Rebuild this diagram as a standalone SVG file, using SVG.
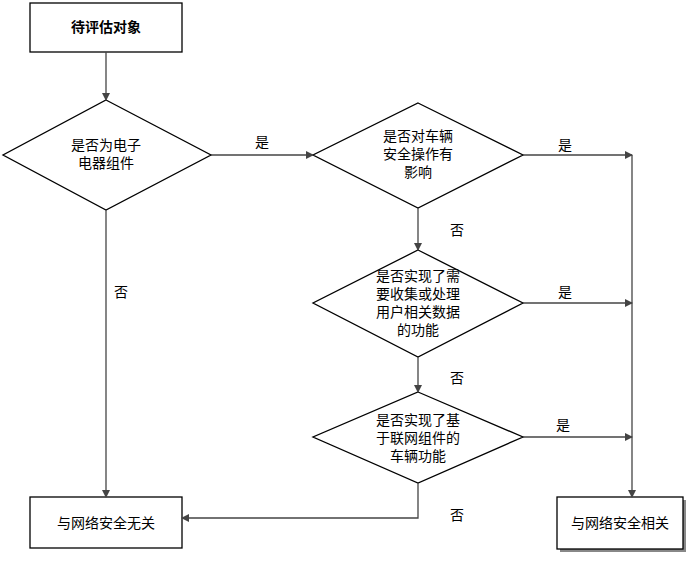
<svg xmlns="http://www.w3.org/2000/svg" width="692" height="579" viewBox="0 0 692 579">
<style>
.s{fill:#fff;stroke:#000;stroke-width:1.3}
.t{font-family:"Liberation Sans","Noto Sans CJK SC",sans-serif;font-size:14px;fill:#000;text-anchor:middle}
.c{fill:none;stroke:#444;stroke-width:1.3}
</style>
<defs><marker id="a" markerWidth="8" markerHeight="8" refX="7" refY="4" orient="auto" markerUnits="userSpaceOnUse"><path d="M0,0 L8,4 L0,8 z" fill="#444"/></marker></defs>
<rect width="692" height="579" fill="#fff"/>
<g id="start"><rect class="s" x="30" y="3" width="152" height="49"/><text class="t" x="106" y="32" font-weight="bold">待评估对象</text></g>
<g id="d1"><polygon class="s" points="106,100 211,155 106,210 3,155"/><text class="t" x="106" y="150">是否为电子</text><text class="t" x="106" y="168">电器组件</text></g>
<g id="d2"><polygon class="s" points="418,103 523,155 418,208 313,155"/><text class="t" x="418" y="141">是否对车辆</text><text class="t" x="418" y="159">安全操作有</text><text class="t" x="418" y="177">影响</text></g>
<g id="d3"><polygon class="s" points="418,250 523,303 418,357 313,303"/><text class="t" x="418" y="281">是否实现了需</text><text class="t" x="418" y="299">要收集或处理</text><text class="t" x="418" y="317">用户相关数据</text><text class="t" x="418" y="335">的功能</text></g>
<g id="d4"><polygon class="s" points="418,392 523,437 418,483 313,437"/><text class="t" x="418" y="425">是否实现了基</text><text class="t" x="418" y="443">于联网组件的</text><text class="t" x="418" y="461">车辆功能</text></g>
<g id="no"><rect class="s" x="30" y="497" width="152" height="51"/><text class="t" x="106" y="528">与网络安全无关</text></g>
<g id="yes"><rect x="560" y="500" width="126" height="52" fill="#888"/><rect class="s" x="557" y="497" width="126" height="52"/><text class="t" x="620" y="528">与网络安全相关</text></g>
<g id="connectors">
<path class="c" d="M106,52 V100" marker-end="url(#a)"/>
<path class="c" d="M211,155 H313" marker-end="url(#a)"/>
<path class="c" d="M523,155 H632" marker-end="url(#a)"/>
<path class="c" d="M523,303 H632" marker-end="url(#a)"/>
<path class="c" d="M523,437 H632" marker-end="url(#a)"/>
<path class="c" d="M632,155 V497" marker-end="url(#a)"/>
<path class="c" d="M418,208 V250" marker-end="url(#a)"/>
<path class="c" d="M418,357 V392" marker-end="url(#a)"/>
<path class="c" d="M418,483 V518 H182" marker-end="url(#a)"/>
<path class="c" d="M106,210 V497" marker-end="url(#a)"/>
<text class="t" x="262" y="147">是</text>
<text class="t" x="565" y="150">是</text>
<text class="t" x="565" y="297">是</text>
<text class="t" x="563" y="430">是</text>
<text class="t" x="457" y="235">否</text>
<text class="t" x="457" y="383">否</text>
<text class="t" x="457" y="520">否</text>
<text class="t" x="121" y="297">否</text>
</g>
</svg>
